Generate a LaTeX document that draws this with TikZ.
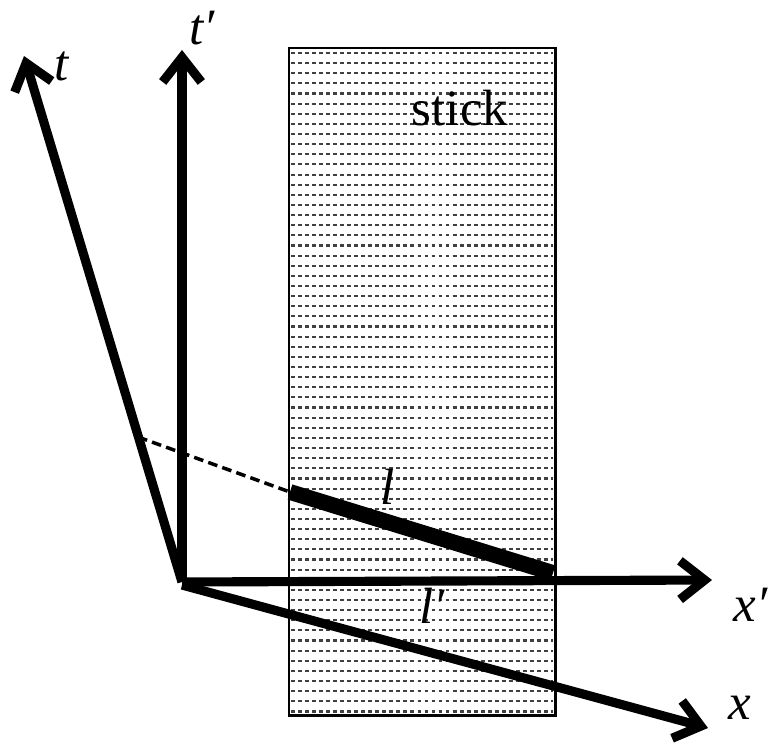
\documentclass[tikz,border=0pt]{standalone}
\usepackage{fontspec}
\setmainfont{Liberation Serif}
\usetikzlibrary{arrows.meta}

\begin{document}
\begin{tikzpicture}[x=0.02cm, y=-0.02cm,
    axis/.style={line width=5.2pt, -{Straight Barb[length=14pt, width=22pt]}},
    stickrow/.style={black!75, line width=1.2pt, dash pattern=on 2.2pt off 1.8pt},
    lbl/.style={font=\fontsize{29}{34}\selectfont, inner sep=0pt}]
    \useasboundingbox (0,0) rectangle (776,746);

    % Draw the stick with its dashed rows
    \coordinate (sa) at (289,48);
    \coordinate (sb) at (555,715);
    \draw[fill=white, line width=1.7pt] (sa) rectangle (sb);
    \foreach \r in {0,...,65}
        \draw[stickrow] ({291},{53+10.13*\r}) -- ({553},{53+10.13*\r});
    \node[lbl] (stick) at (460,108) {stick};

    % Draw the axes
    \coordinate (O) at (182,582);
    \coordinate (ttip) at (24,56);
    \coordinate (tptip) at (182,50);
    \coordinate (xtip) at (708,728);
    \coordinate (xptip) at (712,580);
    \draw[axis] (O) -- (ttip);
    \draw[axis] (O) -- (tptip);
    \draw[axis] (O) -- (xptip);
    \draw[axis] (182,585) -- (xtip);
    \node[lbl] (t) at (62,66) {\textit{t}};
    \node[lbl] (tp) at (202,28) {\textit{t′}};
    \node[lbl] (xp) at (751,605) {\textit{x′}};
    \node[lbl] (x) at (740,708) {\textit{x}};

    % Draw the length l and its dashed extension
    \coordinate (la) at (290,492);
    \coordinate (lb) at (553,573);
    \coordinate (d) at (138,437);
    \draw[line width=2pt, dash pattern=on 5.5pt off 3pt] (d) -- (la);
    \draw[line width=9pt] (la) -- (lb);
    \node[lbl] (l) at (388,487) {\textit{l}};
    \node[lbl] (lp) at (432,606) {\textit{l′}};
\end{tikzpicture}
\end{document}
